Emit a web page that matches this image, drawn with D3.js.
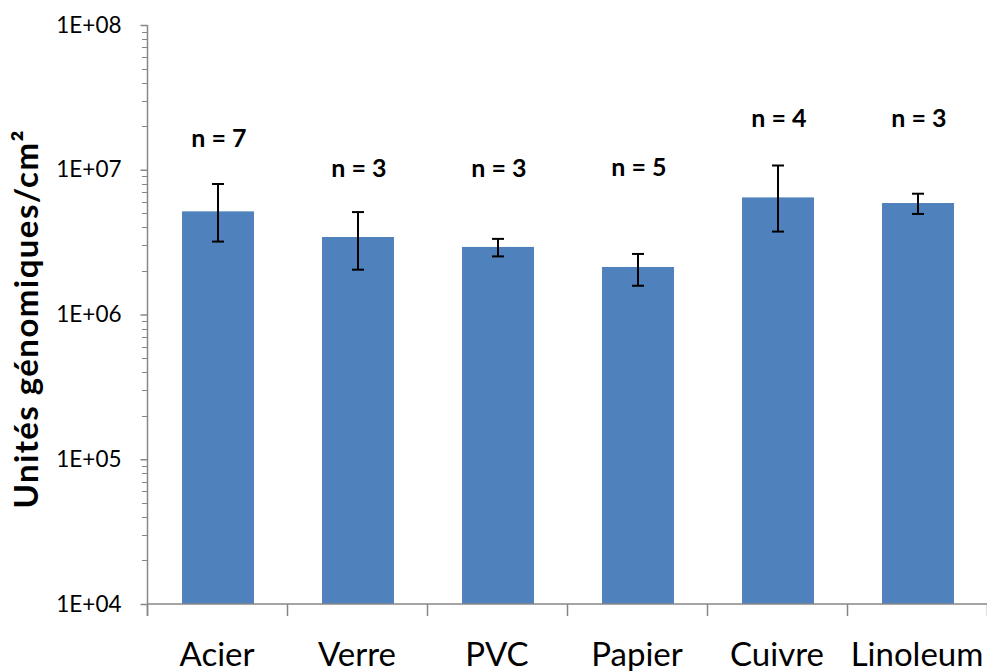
<!DOCTYPE html>
<html>
<head>
<meta charset="utf-8">
<script src="https://cdn.jsdelivr.net/npm/d3@7"></script>
<style>
  html, body { margin: 0; padding: 0; background: #fff; }
  svg { display: block; }
  text { font-family: Lato, "Open Sans", sans-serif; }
</style>
</head>
<body>
<svg id="chart" width="987" height="671"></svg>
<script>
// ---- data ----
const categories = ["Acier", "Verre", "PVC", "Papier", "Cuivre", "Linoleum"];
const means      = [5.16e6, 3.43e6, 2.93e6, 2.13e6, 6.44e6, 5.89e6];
const errUpper   = [7.97e6, 5.10e6, 3.33e6, 2.62e6, 1.07e7, 6.83e6];
const errLower   = [3.19e6, 2.04e6, 2.52e6, 1.58e6, 3.74e6, 4.95e6];
const nLabels    = ["n = 7", "n = 3", "n = 3", "n = 5", "n = 4", "n = 3"];
const nLabelAt   = [1.44e7, 8.9e6, 8.9e6, 9.1e6, 1.98e7, 1.98e7];
const yTickValues = [1e4, 1e5, 1e6, 1e7, 1e8];
const yTickLabels = ["1E+04", "1E+05", "1E+06", "1E+07", "1E+08"];
const yTitle = "Unités génomiques/cm²";

// ---- layout ----
const svg = d3.select("#chart");
const mLeft = 147, mRight = 987, mTop = 25, mBottom = 604;

const x = d3.scaleBand().domain(categories).range([mLeft, mRight]).padding(0);
const y = d3.scaleLog().domain([1e4, 1e8]).range([mBottom, mTop]);

const axisColor = "#878787";
const barColor = "#4F81BD";

// minor ticks
const minorVals = [];
for (let e = 4; e < 8; e++) for (let m = 2; m <= 9; m++) minorVals.push(m * Math.pow(10, e));

svg.append("g").selectAll("line.minor").data(minorVals).join("line")
  .attr("x1", mLeft - 5).attr("x2", mLeft)
  .attr("y1", d => Math.round(y(d)) + 0.5).attr("y2", d => Math.round(y(d)) + 0.5)
  .attr("stroke", axisColor).attr("stroke-width", 1);

// y axis
const yAxis = d3.axisLeft(y).tickValues(yTickValues)
  .tickFormat((d, i) => yTickLabels[i]).tickSize(7).tickPadding(19);
const gy = svg.append("g").attr("transform", `translate(${mLeft + 0.5},0)`).call(yAxis);
gy.select(".domain").attr("stroke", axisColor).attr("stroke-width", 1.5)
  .attr("d", `M0,${mTop}V${mBottom + 12}`);
gy.selectAll(".tick line").attr("stroke", axisColor).attr("stroke-width", 1.5);
gy.selectAll(".tick text").attr("fill", "#000").style("font-size", "22.5px")
  .style("font-family", "Lato, sans-serif");

// bars
const barW = x.bandwidth() * 0.514;
svg.append("g").selectAll("rect").data(categories).join("rect")
  .attr("x", d => x(d) + x.bandwidth() / 2 - barW / 2 + 1)
  .attr("y", (d, i) => y(means[i]))
  .attr("width", barW)
  .attr("height", (d, i) => mBottom - y(means[i]))
  .attr("fill", barColor);

// x axis
const xAxis = d3.axisBottom(x).tickSize(0).tickPadding(39);
const gx = svg.append("g").attr("transform", `translate(0,${mBottom})`).call(xAxis);
gx.select(".domain").attr("stroke", axisColor).attr("stroke-width", 1.5)
  .attr("d", `M${mLeft},0H${mRight}`);
gx.selectAll(".tick text").attr("fill", "#000").style("font-size", "33px")
  .style("font-family", "Lato, sans-serif").attr("dy", "0.71em");
// category boundary ticks
const bounds = categories.map(c => x(c)).concat([x(categories[categories.length - 1]) + x.bandwidth()]);
svg.append("g").selectAll("line").data(bounds).join("line")
  .attr("x1", d => d + 0.5).attr("x2", d => d + 0.5)
  .attr("y1", mBottom).attr("y2", mBottom + 12)
  .attr("stroke", axisColor).attr("stroke-width", 1.5);

// error bars
const eb = svg.append("g").attr("stroke", "#000").attr("stroke-width", 2);
categories.forEach((c, i) => {
  const cx = x(c) + x.bandwidth() / 2 + 1;
  eb.append("line").attr("x1", cx).attr("x2", cx).attr("y1", y(errUpper[i])).attr("y2", y(errLower[i]));
  eb.append("line").attr("x1", cx - 6).attr("x2", cx + 6).attr("y1", y(errUpper[i])).attr("y2", y(errUpper[i]));
  eb.append("line").attr("x1", cx - 6).attr("x2", cx + 6).attr("y1", y(errLower[i])).attr("y2", y(errLower[i]));
});

// n labels
svg.append("g").selectAll("text").data(categories).join("text")
  .attr("x", d => x(d) + x.bandwidth() / 2 + 2)
  .attr("y", (d, i) => y(nLabelAt[i]))
  .attr("text-anchor", "middle")
  .style("font-size", "25px").style("font-weight", "bold")
  .text((d, i) => nLabels[i]);

// y title
svg.append("text")
  .attr("transform", `translate(38,${(mTop + mBottom) / 2 + 5}) rotate(-90)`)
  .attr("text-anchor", "middle")
  .attr("textLength", 378).attr("lengthAdjust", "spacing")
  .style("font-size", "33px").style("font-weight", "bold")
  .text(yTitle);
</script>
</body>
</html>
